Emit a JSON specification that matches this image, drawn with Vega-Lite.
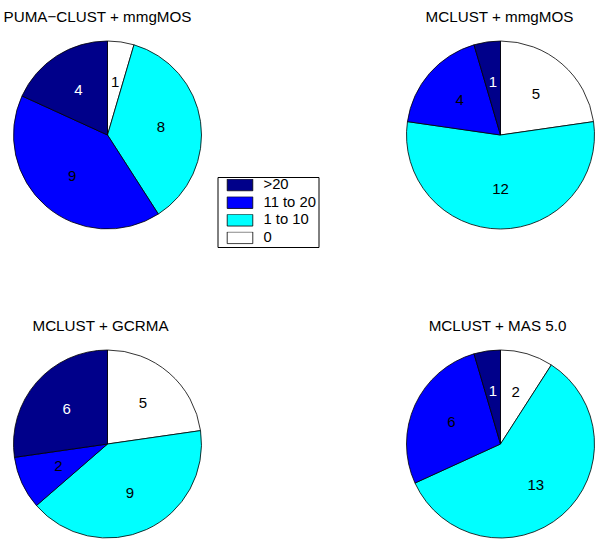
{
  "$schema": "https://vega.github.io/schema/vega-lite/v6.json",
  "autosize": {"type": "pad"},
  "padding": {"left": 2.5, "top": 10, "right": 0, "bottom": 0},
  "background": "white",
  "data": {"values": [
    {"panel": "PUMA−CLUST + mmgMOS", "cat": "0", "n": 1},
    {"panel": "PUMA−CLUST + mmgMOS", "cat": "1 to 10", "n": 8},
    {"panel": "PUMA−CLUST + mmgMOS", "cat": "11 to 20", "n": 9},
    {"panel": "PUMA−CLUST + mmgMOS", "cat": ">20", "n": 4},
    {"panel": "MCLUST + mmgMOS", "cat": "0", "n": 5},
    {"panel": "MCLUST + mmgMOS", "cat": "1 to 10", "n": 12},
    {"panel": "MCLUST + mmgMOS", "cat": "11 to 20", "n": 4},
    {"panel": "MCLUST + mmgMOS", "cat": ">20", "n": 1},
    {"panel": "MCLUST + GCRMA", "cat": "0", "n": 5},
    {"panel": "MCLUST + GCRMA", "cat": "1 to 10", "n": 9},
    {"panel": "MCLUST + GCRMA", "cat": "11 to 20", "n": 2},
    {"panel": "MCLUST + GCRMA", "cat": ">20", "n": 6},
    {"panel": "MCLUST + MAS 5.0", "cat": "0", "n": 2},
    {"panel": "MCLUST + MAS 5.0", "cat": "1 to 10", "n": 13},
    {"panel": "MCLUST + MAS 5.0", "cat": "11 to 20", "n": 6},
    {"panel": "MCLUST + MAS 5.0", "cat": ">20", "n": 1}
  ]},
  "config": {
    "view": {"stroke": null},
    "font": "Liberation Sans",
    "title": {"fontSize": 15.2, "fontWeight": "normal", "color": "black", "font": "Liberation Sans", "baseline": "alphabetic", "offset": 14},
    "legend": {
      "orient": "none", "legendX": 204, "legendY": 136,
      "strokeColor": "black", "fillColor": "white", "padding": 2,
      "symbolType": "M-1,-0.457H1V0.457H-1Z", "symbolSize": 655,
      "symbolStrokeColor": "black", "symbolStrokeWidth": 0.8, "symbolOffset": 7,
      "labelFontSize": 14.8, "labelFont": "Liberation Sans", "labelColor": "black",
      "labelOffset": 10, "clipHeight": 12, "rowPadding": 2.6, "title": null
    }
  },
  "bounds": "flush",
  "columns": 2,
  "spacing": {"row": 121, "column": 205},
  "concat": [
    {
      "title": {"text": "PUMA−CLUST + mmgMOS", "dx": -10},
      "transform": [{"filter": "datum.panel === 'PUMA−CLUST + mmgMOS'"}],
      "width": 188, "height": 188,
      "encoding": {
        "theta": {"field": "n", "type": "quantitative", "stack": true},
        "order": {"field": "cat", "sort": "ascending"}
      },
      "layer": [
        {"mark": {"type": "arc", "stroke": "black", "strokeWidth": 0.8},
         "encoding": {"color": {"field": "cat", "type": "nominal", "scale": {"domain": [">20", "11 to 20", "1 to 10", "0"], "range": ["#00008a", "#0000ff", "#00ffff", "#ffffff"]}, "legend": {"title": null}}}},
        {"mark": {"type": "text", "radius": 54, "fontSize": 15, "font": "Liberation Sans"},
         "encoding": {"detail": {"field": "cat"}, "text": {"field": "n", "type": "quantitative"},
           "color": {"condition": {"test": "datum.cat === '>20'", "value": "white"}, "value": "black"}}}
      ]
    },
    {
      "title": {"text": "MCLUST + mmgMOS", "dx": -1},
      "transform": [{"filter": "datum.panel === 'MCLUST + mmgMOS'"}],
      "width": 188, "height": 188,
      "encoding": {
        "theta": {"field": "n", "type": "quantitative", "stack": true},
        "order": {"field": "cat", "sort": "ascending"}
      },
      "layer": [
        {"mark": {"type": "arc", "stroke": "black", "strokeWidth": 0.8},
         "encoding": {"color": {"field": "cat", "type": "nominal"}}},
        {"mark": {"type": "text", "radius": 54, "fontSize": 15, "font": "Liberation Sans"},
         "encoding": {"detail": {"field": "cat"}, "text": {"field": "n", "type": "quantitative"},
           "color": {"condition": {"test": "datum.cat === '>20'", "value": "white"}, "value": "black"}}}
      ]
    },
    {
      "title": {"text": "MCLUST + GCRMA", "dx": -7},
      "transform": [{"filter": "datum.panel === 'MCLUST + GCRMA'"}],
      "width": 188, "height": 188,
      "encoding": {
        "theta": {"field": "n", "type": "quantitative", "stack": true},
        "order": {"field": "cat", "sort": "ascending"}
      },
      "layer": [
        {"mark": {"type": "arc", "stroke": "black", "strokeWidth": 0.8},
         "encoding": {"color": {"field": "cat", "type": "nominal"}}},
        {"mark": {"type": "text", "radius": 54, "fontSize": 15, "font": "Liberation Sans"},
         "encoding": {"detail": {"field": "cat"}, "text": {"field": "n", "type": "quantitative"},
           "color": {"condition": {"test": "datum.cat === '>20'", "value": "white"}, "value": "black"}}}
      ]
    },
    {
      "title": {"text": "MCLUST + MAS 5.0", "dx": -3},
      "transform": [{"filter": "datum.panel === 'MCLUST + MAS 5.0'"}],
      "width": 188, "height": 188,
      "encoding": {
        "theta": {"field": "n", "type": "quantitative", "stack": true},
        "order": {"field": "cat", "sort": "ascending"}
      },
      "layer": [
        {"mark": {"type": "arc", "stroke": "black", "strokeWidth": 0.8},
         "encoding": {"color": {"field": "cat", "type": "nominal"}}},
        {"mark": {"type": "text", "radius": 54, "fontSize": 15, "font": "Liberation Sans"},
         "encoding": {"detail": {"field": "cat"}, "text": {"field": "n", "type": "quantitative"},
           "color": {"condition": {"test": "datum.cat === '>20'", "value": "white"}, "value": "black"}}}
      ]
    }
  ]
}
